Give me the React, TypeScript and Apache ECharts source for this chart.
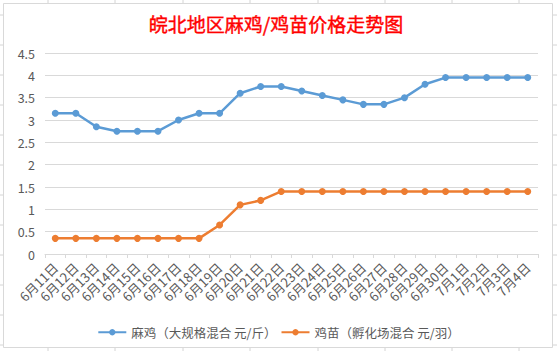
import React, { useEffect, useRef } from "react";
import * as echarts from "echarts";

const categories = [
  "6月11日", "6月12日", "6月13日", "6月14日", "6月15日", "6月16日", "6月17日", "6月18日",
  "6月19日", "6月20日", "6月21日", "6月22日", "6月23日", "6月24日", "6月25日", "6月26日",
  "6月27日", "6月28日", "6月29日", "6月30日", "7月1日", "7月2日", "7月3日", "7月4日",
];
const maJi = [
  3.15, 3.15, 2.85, 2.75, 2.75, 2.75, 3.0, 3.15, 3.15, 3.6, 3.75, 3.75,
  3.65, 3.55, 3.45, 3.35, 3.35, 3.5, 3.8, 3.95, 3.95, 3.95, 3.95, 3.95,
];
const jiMiao = [
  0.35, 0.35, 0.35, 0.35, 0.35, 0.35, 0.35, 0.35, 0.65, 1.1, 1.2, 1.4,
  1.4, 1.4, 1.4, 1.4, 1.4, 1.4, 1.4, 1.4, 1.4, 1.4, 1.4, 1.4,
];
const seriesNames = ["麻鸡（大规格混合 元/斤）", "鸡苗（孵化场混合 元/羽）"];
const titleText = "皖北地区麻鸡/鸡苗价格走势图";

const FONT = "'Noto Sans CJK SC', 'Noto Sans', sans-serif";

export default function App() {
  const ref = useRef<HTMLDivElement>(null);
  useEffect(() => {
    document.body.style.margin = "0";
    const chart = echarts.init(ref.current!, null, { renderer: "svg" });
    const colXs = [48, 115, 183, 250, 318, 385, 452, 519];
    const rowYs = [15, 45, 75, 105, 135, 165, 195, 225, 255, 285, 315, 345];
    const cellStyle = { stroke: "#d4d4d4", lineWidth: 1 };
    const cellLines = [
      ...colXs.map((x) => ({ type: "line", shape: { x1: x, y1: 0, x2: x, y2: 3 }, style: cellStyle, silent: true })),
      ...colXs.map((x) => ({ type: "line", shape: { x1: x, y1: 348, x2: x, y2: 351 }, style: cellStyle, silent: true })),
      ...rowYs.flatMap((y) => [
        { type: "line", shape: { x1: 0, y1: y, x2: 3, y2: y }, style: cellStyle, silent: true },
        { type: "line", shape: { x1: 553, y1: y, x2: 557, y2: y }, style: cellStyle, silent: true },
      ]),
    ];
    chart.setOption({
      animation: false,
      backgroundColor: "#ffffff",
      textStyle: { fontFamily: FONT },
      graphic: [
        ...cellLines,
        {
          type: "rect",
          shape: { x: 3.5, y: 3.5, width: 549, height: 344 },
          style: { fill: "none", stroke: "#d9d9d9", lineWidth: 1 },
          silent: true,
          z: -1,
        },
        {
          type: "text",
          x: 276,
          y: 23,
          style: {
            text: titleText,
            fill: "#ff0000",
            stroke: "#ff0000",
            lineWidth: 0.4,
            font: `normal 19px ${FONT}`,
            textAlign: "center",
            textVerticalAlign: "middle",
          },
        },
      ],
      grid: { left: 45, right: 19, top: 53, bottom: 97 },
      legend: {
        data: seriesNames,
        top: 321,
        left: "center",
        itemWidth: 28,
        itemHeight: 8,
        itemGap: 4,
        textStyle: { color: "#595959", fontSize: 12.5, fontFamily: FONT },
      },
      xAxis: {
        type: "category",
        data: categories,
        boundaryGap: true,
        axisLine: { lineStyle: { color: "#d9d9d9" } },
        axisTick: { show: true, length: 4, lineStyle: { color: "#d9d9d9" } },
        axisLabel: {
          rotate: 45,
          interval: 0,
          color: "#595959",
          fontSize: 13,
          margin: 11,
          fontFamily: FONT,
        },
      },
      yAxis: {
        type: "value",
        min: 0,
        max: 4.5,
        interval: 0.5,
        axisLine: { show: false },
        axisTick: { show: false },
        splitLine: { lineStyle: { color: "#d9d9d9" } },
        axisLabel: { color: "#595959", fontSize: 12.5, margin: 10, fontFamily: FONT },
      },
      series: [
        {
          name: seriesNames[0],
          type: "line",
          data: maJi,
          color: "#5b9bd5",
          symbol: "circle",
          symbolSize: 7,
          lineStyle: { width: 2.5, color: "#5b9bd5" },
          itemStyle: { color: "#5b9bd5" },
        },
        {
          name: seriesNames[1],
          type: "line",
          data: jiMiao,
          color: "#ed7d31",
          symbol: "circle",
          symbolSize: 7,
          lineStyle: { width: 2.5, color: "#ed7d31" },
          itemStyle: { color: "#ed7d31" },
        },
      ],
    });
    return () => chart.dispose();
  }, []);
  return <div ref={ref} style={{ width: 557, height: 351 }} />;
}
